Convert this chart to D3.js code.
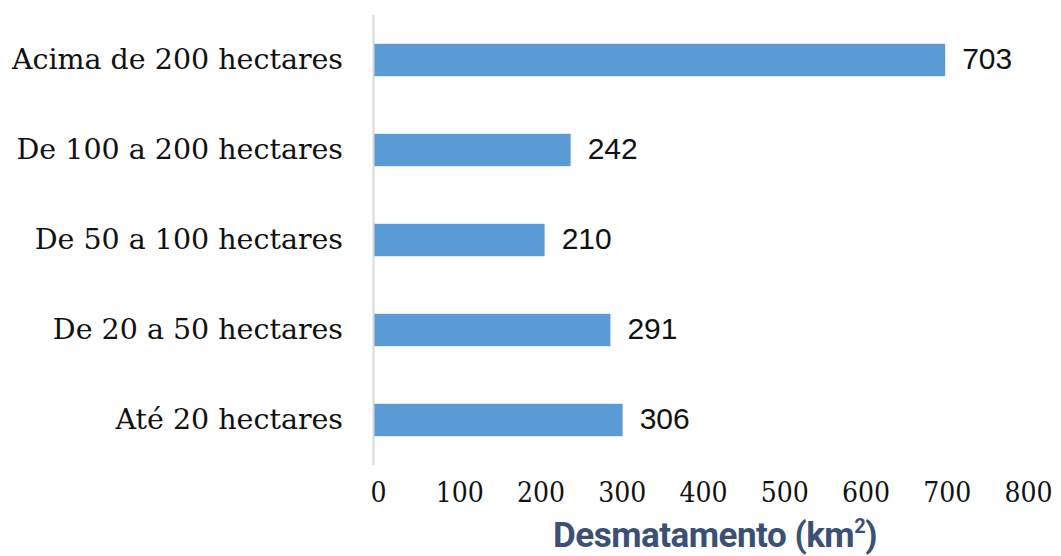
<!DOCTYPE html>
<html>
<head>
<meta charset="utf-8">
<script src="https://cdn.jsdelivr.net/npm/d3@7"></script>
<style>
  body { margin: 0; background: #fff; }
</style>
</head>
<body>
<svg id="chart" width="1061" height="556"></svg>
<script>
var categories = ["Acima de 200 hectares", "De 100 a 200 hectares", "De 50 a 100 hectares", "De 20 a 50 hectares", "Até 20 hectares"];
var values = [703, 242, 210, 291, 306];
var xTicks = [0, 100, 200, 300, 400, 500, 600, 700, 800];
var axisTitle = "Desmatamento (km";

var svg = d3.select("#chart");
var plotLeft = 374, plotRight = 1024, plotTop = 15, plotBottom = 465;

var x = d3.scaleLinear().domain([0, 800]).range([plotLeft, plotRight]);
var y = d3.scaleBand().domain(categories).range([plotTop, plotBottom]).paddingInner(0.64).paddingOuter(0.32);

// bars
svg.selectAll("rect.bar").data(values).enter().append("rect")
  .attr("class", "bar")
  .attr("x", x(0))
  .attr("y", function(d, i){ return y(categories[i]); })
  .attr("width", function(d){ return x(d) - x(0); })
  .attr("height", y.bandwidth())
  .attr("fill", "#5b9bd5");

// vertical axis line
svg.append("line")
  .attr("x1", plotLeft - 0.5).attr("x2", plotLeft - 0.5)
  .attr("y1", plotTop).attr("y2", plotBottom)
  .attr("stroke", "#d9d9d9").attr("stroke-width", 2);

// category labels
svg.selectAll("text.cat").data(categories).enter().append("text")
  .attr("class", "cat")
  .attr("x", 343)
  .attr("y", function(d){ return y(d) + y.bandwidth() / 2; })
  .attr("dy", "0.33em")
  .attr("text-anchor", "end")
  .attr("font-family", "'DejaVu Serif', serif")
  .attr("font-size", 28.5)
  .attr("fill", "#111")
  .text(function(d){ return d; });

// value labels
svg.selectAll("text.val").data(values).enter().append("text")
  .attr("class", "val")
  .attr("x", function(d){ return x(d) + 17; })
  .attr("y", function(d, i){ return y(categories[i]) + y.bandwidth() / 2; })
  .attr("dy", "0.3em")
  .attr("font-family", "'Liberation Sans', Arial, sans-serif")
  .attr("font-size", 30)
  .attr("fill", "#111")
  .text(function(d){ return d; });

// x tick labels
var xAxis = d3.axisBottom(x).tickValues(xTicks).tickSize(0).tickPadding(0);
var gx = svg.append("g").attr("transform", "translate(4,482)").call(xAxis);
gx.select(".domain").remove();
gx.selectAll("text")
  .attr("font-family", "'DejaVu Serif Condensed', 'DejaVu Serif', serif")
  .attr("font-stretch", "condensed")
  .attr("font-size", 28)
  .attr("fill", "#111");

// axis title
var t = svg.append("text")
  .attr("x", 715).attr("y", 547)
  .attr("text-anchor", "middle")
  .attr("font-family", "Roboto, sans-serif")
  .attr("font-weight", "bold")
  .attr("font-size", 35)
  .attr("fill", "#3b5075")
  .attr("letter-spacing", -0.5);
t.append("tspan").text(axisTitle);
t.append("tspan").attr("font-size", 20).attr("dy", -14).text("2");
t.append("tspan").attr("dy", 14).text(")");
</script>
</body>
</html>
